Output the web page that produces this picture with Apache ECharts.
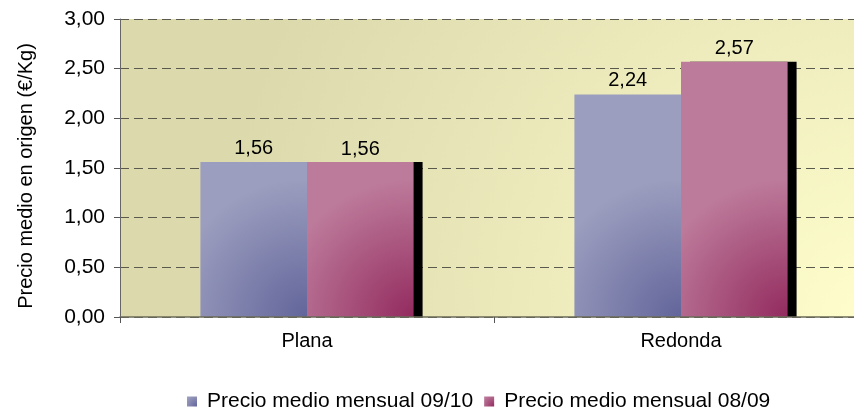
<!DOCTYPE html>
<html>
<head>
<meta charset="utf-8">
<script src="https://cdn.jsdelivr.net/npm/echarts@6/dist/echarts.min.js"></script>
<style>
  html, body { margin: 0; padding: 0; background: #fff; overflow: hidden; }
  /* plot area runs past the right edge in the original, so the canvas is wider than the page */
  #chart { width: 880px; height: 412px; }
</style>
</head>
<body>
<div id="chart"></div>
<script>
var categories = ['Plana', 'Redonda']
var seriesNames = ['Precio medio mensual 09/10', 'Precio medio mensual 08/09']
var precio0910 = [1.56, 2.24]
var precio0809 = [1.56, 2.57]
var yTicks = [0, 0.5, 1, 1.5, 2, 2.5, 3]

var font = 'Liberation Sans, Arial, sans-serif'

function cornerFill(light, dark) {
  // excel "from corner" look: dark in the bottom-right, light elsewhere
  return new echarts.graphic.RadialGradient(1, 1, 1.3, [
    { offset: 0, color: dark },
    { offset: 1, color: light }
  ])
}

function comma(v) {
  return v.toFixed(2).replace('.', ',')
}

var chart = echarts.init(document.getElementById('chart'), null, { renderer: 'canvas' })

chart.setOption({
  animation: false,
  textStyle: { fontFamily: font, color: '#000' },
  grid: {
    left: 120,
    top: 19,
    width: 748,
    height: 298,
    show: true,
    borderWidth: 0,
    backgroundColor: new echarts.graphic.RadialGradient(1, 1, 2.2, [
      { offset: 0, color: '#fefdcb' },
      { offset: 1, color: '#dcd9ad' }
    ])
  },
  legend: {
    data: seriesNames,
    left: 182,
    top: 386,
    itemWidth: 10,
    itemHeight: 10,
    itemGap: 11,
    icon: 'rect',
    itemStyle: { shadowBlur: 0, shadowOffsetX: 0, shadowColor: 'rgba(0,0,0,0)' },
    textStyle: { fontSize: 21, color: '#000', fontFamily: font, padding: [0, 0, 0, 5] }
  },
  xAxis: {
    type: 'category',
    data: categories,
    axisLine: { lineStyle: { color: '#6b6b5a', width: 1.5 } },
    axisTick: { show: true, length: 6, lineStyle: { color: '#555' } },
    axisLabel: { fontSize: 20, color: '#000', margin: 14, fontFamily: font },
    z: 5
  },
  yAxis: {
    type: 'value',
    min: 0,
    max: 3,
    interval: 0.5,
    name: 'Precio medio en origen (€/Kg)',
    nameLocation: 'middle',
    nameGap: 84,
    nameTextStyle: { fontSize: 20, color: '#000', fontFamily: font, padding: [0, 16, 0, 0] },
    axisLine: { show: true, lineStyle: { color: '#666', width: 1 } },
    axisTick: { show: true, length: 6, lineStyle: { color: '#555' } },
    axisLabel: {
      fontSize: 21,
      color: '#000',
      margin: 15,
      fontFamily: font,
      formatter: function (v) {
        return yTicks.indexOf(v) >= 0 ? comma(v) : ''
      }
    },
    splitLine: { lineStyle: { color: '#5a5a4c', type: [9, 5], width: 1 } }
  },
  series: [
    {
      name: seriesNames[0],
      type: 'bar',
      data: precio0910,
      barGap: '0%',
      barCategoryGap: '43%',
      itemStyle: { color: cornerFill('#9c9ebf', '#62659a') },
      label: {
        show: true,
        position: 'top',
        distance: 4,
        fontSize: 20,
        color: '#000',
        fontFamily: font,
        formatter: function (p) { return comma(p.value) }
      }
    },
    {
      name: seriesNames[1],
      type: 'bar',
      data: precio0809,
      itemStyle: {
        color: cornerFill('#bd7b9b', '#932b5f'),
        shadowColor: '#000',
        shadowBlur: 0,
        shadowOffsetX: 9,
        shadowOffsetY: 0
      },
      label: {
        show: true,
        position: 'top',
        distance: 3,
        fontSize: 20,
        color: '#000',
        fontFamily: font,
        formatter: function (p) { return comma(p.value) }
      }
    }
  ]
})
</script>
</body>
</html>
